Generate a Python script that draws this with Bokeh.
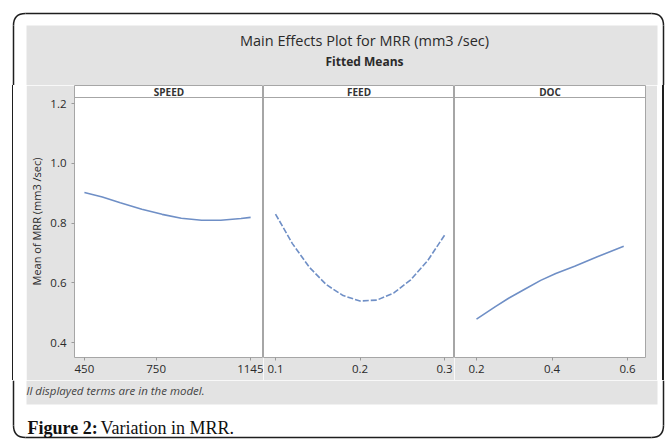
from bokeh.plotting import figure
from bokeh.layouts import row, column
from bokeh.models import Range1d, LinearAxis, FixedTicker, NumeralTickFormatter, Span, Label, Div
from bokeh.embed import file_html
from bokeh.resources import INLINE

# ---- data ----
title_text = "Main Effects Plot for MRR (mm3 /sec)"
subtitle_text = "Fitted Means"
y_label = "Mean of MRR (mm3 /sec)"
panel_names = ["SPEED", "FEED", "DOC"]

speed_x = [450, 525, 600, 690, 775, 855, 940, 1020, 1105, 1145]
speed_y = [0.902, 0.887, 0.868, 0.846, 0.829, 0.816, 0.809, 0.809, 0.815, 0.819]

feed_x = [0.10, 0.12, 0.14, 0.16, 0.18, 0.20, 0.22, 0.24, 0.26, 0.28, 0.30]
feed_y = [0.830, 0.731, 0.652, 0.594, 0.557, 0.539, 0.542, 0.566, 0.610, 0.674, 0.759]

doc_x = [0.20, 0.25, 0.285, 0.33, 0.37, 0.41, 0.46, 0.52, 0.59]
doc_y = [0.478, 0.520, 0.548, 0.580, 0.608, 0.631, 0.655, 0.687, 0.722]

y_ticks = [0.4, 0.6, 0.8, 1.0, 1.2]
speed_ticks = [450, 750, 1145]
feed_ticks = [0.1, 0.2, 0.3]
doc_ticks = [0.2, 0.4, 0.6]

footnote = "ll displayed terms are in the model."
caption_bold = "Figure 2:"
caption_text = "Variation in MRR."

# ---- styles ----
GRAY = "#e3e3e3"
FRAME = "#a6a6a6"
LINE = "#6f8fc6"
TXT = "#2a2a2a"
BORDER = "#1e1e1e"
SANS = "Open Sans"
SERIF = "Liberation Serif"

W = 670


def canvas_fig(w, h):
    p = figure(width=w, height=h, x_range=Range1d(0, w), y_range=Range1d(h, 0),
               x_axis_type=None, y_axis_type=None, toolbar_location=None,
               output_backend="svg", min_border=0,
               min_border_left=0, min_border_right=0, min_border_top=0, min_border_bottom=0)
    p.outline_line_color = None
    p.background_fill_color = "white"
    p.border_fill_color = "white"
    return p


def hbar(p, x0, x1, y):
    p.quad(left=x0, right=x1, top=y - 0.75, bottom=y + 0.75, fill_color=BORDER, line_color=None)


def vbar(p, x, y0, y1):
    p.quad(left=x - 0.75, right=x + 0.75, top=y0, bottom=y1, fill_color=BORDER, line_color=None)


# ---- top header ----
TOP_H = 85
top = canvas_fig(W, TOP_H)
top.quad(left=26, right=657, top=25, bottom=TOP_H, fill_color=GRAY, line_color=None)
vbar(top, 13, 25, TOP_H)
vbar(top, 663, 25, TOP_H)
hbar(top, 25, 651, 13)
top.quadratic(x0=[13, 651], y0=[25, 13], x1=[25, 663], y1=[13, 25], cx=[13, 663], cy=[13, 13],
              line_color=BORDER, line_width=1.5)
top.add_layout(Label(x=364, y=40, text=title_text, text_align="center", text_baseline="middle",
                     text_font=SANS, text_font_size="14.5px", text_color=TXT))
top.add_layout(Label(x=364, y=61, text=subtitle_text, text_align="center", text_baseline="middle",
                     text_font=SANS, text_font_size="12px", text_font_style="bold", text_color=TXT))

# ---- panels ----
ROW_H = 295
yr = Range1d(0.3498, 1.2603)
STRIP_Y = 1.2201
STRIP_MID = 1.2402


def panel(w, xr, xs, ys, ticks, fmt, name, left=0, right=0, dash="solid"):
    p = figure(width=w, height=ROW_H, x_range=xr, y_range=yr, x_axis_type=None, y_axis_type=None,
               toolbar_location=None, output_backend="svg",
               min_border_left=left, min_border_right=right, min_border_top=0, min_border_bottom=23)
    p.background_fill_color = "white"
    p.border_fill_color = GRAY
    p.outline_line_color = FRAME
    p.outline_line_width = 1
    ax = LinearAxis(ticker=FixedTicker(ticks=ticks), formatter=NumeralTickFormatter(format=fmt))
    ax.axis_line_color = None
    ax.major_tick_line_color = "#9a9a9a"
    ax.major_tick_in = 0
    ax.major_tick_out = 3
    ax.major_label_standoff = 4
    ax.major_label_text_font = SANS
    ax.major_label_text_font_size = "11.5px"
    ax.major_label_text_color = TXT
    p.add_layout(ax, "below")
    p.add_layout(Span(location=STRIP_Y, dimension="width", line_color=FRAME, line_width=1))
    p.add_layout(Label(x=(xr.start + xr.end) / 2, y=STRIP_MID, text=name, text_align="center",
                       text_baseline="middle", text_font=SANS, text_font_size="10px",
                       text_font_style="bold", text_color="#333333"))
    p.line(xs, ys, line_color=LINE, line_width=1.6, line_dash=dash)
    return p


f1 = panel(237, Range1d(408.6, 1198.8), speed_x, speed_y, speed_ticks, "0", panel_names[0], left=46)
yax = LinearAxis(ticker=FixedTicker(ticks=y_ticks), formatter=NumeralTickFormatter(format="0.0"),
                 axis_label=y_label)
yax.axis_line_color = None
yax.major_tick_line_color = "#9a9a9a"
yax.major_tick_in = 0
yax.major_tick_out = 3
yax.major_label_standoff = 5
yax.major_label_text_font = SANS
yax.major_label_text_font_size = "11.5px"
yax.major_label_text_color = TXT
yax.axis_label_text_font = SANS
yax.axis_label_text_font_size = "11px"
yax.axis_label_text_font_style = "normal"
yax.axis_label_text_color = TXT
yax.axis_label_standoff = 3
f1.add_layout(yax, "left")

f2 = panel(191, Range1d(0.0858, 0.3118), feed_x, feed_y, feed_ticks, "0.0", panel_names[1], dash="6 2")
f3 = panel(203, Range1d(0.1417, 0.6477), doc_x, doc_y, doc_ticks, "0.0", panel_names[2], right=12)

sideL = Div(text="", width=26, height=ROW_H, margin=0,
            styles={"background": "linear-gradient(to right, #ffffff 12px, #1e1e1e 12px, #1e1e1e 13.5px, #ffffff 13.5px)"})
sideR = Div(text="", width=13, height=ROW_H, margin=0,
            styles={"background": "linear-gradient(to right, #ffffff 5px, #1e1e1e 5px, #1e1e1e 6.5px, #ffffff 6.5px)"})

# ---- bottom ----
BOT_H = 65
bot = canvas_fig(W, BOT_H)
bot.quad(left=26, right=657, top=0, bottom=24, fill_color=GRAY, line_color=None)
vbar(bot, 13, 0, 45)
vbar(bot, 663, 0, 45)
hbar(bot, 25, 651, 57)
bot.quadratic(x0=[13, 651], y0=[45, 57], x1=[25, 663], y1=[57, 45], cx=[13, 663], cy=[57, 57],
              line_color=BORDER, line_width=1.5)
bot.add_layout(Label(x=26, y=10, text=footnote, text_align="left", text_baseline="middle",
                     text_font=SANS, text_font_size="11.5px", text_font_style="italic", text_color="#444444"))
bot.add_layout(Label(x=27, y=47, text=caption_bold, text_align="left", text_baseline="middle",
                     text_font=SERIF, text_font_size="18px", text_font_style="bold", text_color="#111111"))
bot.add_layout(Label(x=100, y=47, text=caption_text, text_align="left", text_baseline="middle",
                     text_font=SERIF, text_font_size="18px", text_color="#111111"))

layout = column(top, row(sideL, f1, f2, f3, sideR), bot)

open("out.html", "w").write(file_html(layout, INLINE))
